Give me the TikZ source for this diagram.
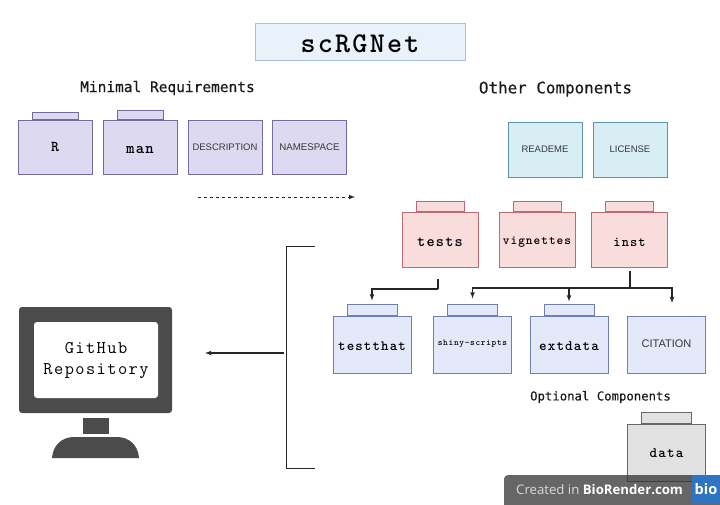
\documentclass[tikz,border=0pt]{standalone}
\usepackage{fontspec}
\usepackage{xcolor}
\setmainfont{Liberation Sans}
\newfontfamily\headFont[FakeBold=0.4]{DejaVu Sans Mono}
\newfontfamily\badgeFont{Open Sans}
\newfontfamily\boxFont[LetterSpace=8]{Latin Modern Mono Light}
\newfontfamily\screenFont[LetterSpace=8]{Latin Modern Mono}
\definecolor{titleC}{HTML}{E9F1FB}
\definecolor{titleL}{HTML}{A9BEE3}
\definecolor{purpleC}{HTML}{DCD9F0}
\definecolor{purpleL}{HTML}{716D9E}
\definecolor{cyanC}{HTML}{D8EEF5}
\definecolor{cyanL}{HTML}{5E94A9}
\definecolor{redC}{HTML}{F9DDDD}
\definecolor{redL}{HTML}{BF6A70}
\definecolor{blueC}{HTML}{E3E9F9}
\definecolor{blueL}{HTML}{6C80B6}
\definecolor{grayC}{HTML}{E2E2E2}
\definecolor{grayL}{HTML}{686868}
\definecolor{screenC}{HTML}{4A4B4A}
\definecolor{bioC}{HTML}{2F74C0}
\newcommand\monoText[3]{\raisebox{-#2pt}[0pt][0pt]{\boxFont\bfseries\fontsize{#1}{#1}\selectfont #3}}
\newcommand\sansText[2]{\fontsize{#1}{#1}\selectfont\color{black!78}#2}
\tikzset{
    plainBox/.style={inner sep=0pt,line width=1pt},
    purpleBox/.style={plainBox,draw=purpleL,fill=purpleC,minimum width=74pt,minimum height=54pt},
    cyanBox/.style={plainBox,draw=cyanL,fill=cyanC,minimum width=74pt,minimum height=55pt},
    redBox/.style={plainBox,draw=redL,fill=redC,minimum width=76pt,minimum height=55pt},
    blueBox/.style={plainBox,draw=blueL,fill=blueC,minimum width=78pt,minimum height=57pt},
    grayBox/.style={plainBox,draw=grayL,fill=grayC,minimum width=78pt,minimum height=57pt},
    headText/.style={inner sep=0pt,text=black!90},
    linkLine/.style={line width=1.1pt,draw=black!85,-latex},
    bareLine/.style={line width=1.1pt,draw=black!85}
}
\begin{document}
\begin{tikzpicture}[x=1pt,y=-1pt]
        \newcommand\folderBox[6]{
            \node[#2] (#1) at #3 {#6};
            \node[#2,anchor=south,minimum width=#5pt,minimum height=#4pt] (#1Tab) at (#1.north) {};
        }
        \useasboundingbox (0,0) rectangle (720,504);
        % title and headings
        \node[plainBox,draw=titleL,fill=titleC,minimum width=210pt,minimum height=37pt] (title) at (360,41.5)
            {\monoText{28.6}{10.5}{scRGNet}};
        \node[headText] (minimalHead) at (167.5,88) {\headFont\fontsize{14.5}{14.5}\selectfont Minimal Requirements};
        \node[headText] (otherHead) at (555.5,89) {\headFont\fontsize{15.9}{15.9}\selectfont Other Components};
        \node[headText] (optionalHead) at (600.5,397) {\headFont\fontsize{12.3}{12.3}\selectfont Optional Components};
        % minimal requirements
        \folderBox{rDir}{purpleBox}{(55,147)}{7}{46}{\monoText{15}{4.7}{R}}
        \folderBox{manDir}{purpleBox}{(140,147)}{9}{46}{\monoText{16}{6.3}{man}}
        \node[purpleBox] (description) at (225,147) {\sansText{9.5}{DESCRIPTION}};
        \node[purpleBox] (namespace) at (309.5,147) {\sansText{9.7}{NAMESPACE}};
        % other components
        \node[cyanBox] (readme) at (545,149.5) {\sansText{9.5}{READEME}};
        \node[cyanBox] (license) at (630,149.5) {\sansText{9.5}{LICENSE}};
        \folderBox{testsDir}{redBox}{(440,239.5)}{10}{48}{\monoText{15.5}{7}{tests}}
        \folderBox{vignettesDir}{redBox}{(537,239.5)}{10}{48}{\monoText{12.7}{5}{vignettes}}
        \folderBox{instDir}{redBox}{(629.5,239.5)}{10}{48}{\monoText{13.7}{6.5}{inst}}
        \folderBox{testthatDir}{blueBox}{(372,344.5)}{11}{50}{\monoText{14.2}{6}{testthat}}
        \folderBox{shinyDir}{blueBox}{(472.5,344.5)}{11}{50}{\monoText{8.9}{0.5}{shiny-scripts}}
        \folderBox{extdataDir}{blueBox}{(569,344.5)}{11}{50}{\monoText{14.4}{6}{extdata}}
        \node[blueBox] (citation) at (666.5,344.5) {\raisebox{1pt}{\sansText{11}{CITATION}}};
        \folderBox{dataDir}{grayBox}{(666.5,452.5)}{11}{50}{\monoText{14.4}{5}{data}}
        % monitor
        \node[fill=screenC,rounded corners=3pt,minimum width=153pt,minimum height=106pt,inner sep=0pt] (monitor) at (95.5,360) {};
        \node[fill=white,rounded corners=3pt,minimum width=124pt,minimum height=76pt,inner sep=0pt,align=center,
            font=\screenFont\fontsize{17.9}{21}\selectfont] (screen) at (96,360) {GitHub\\Repository};
        \node[fill=screenC,minimum width=26pt,minimum height=16pt,inner sep=0pt] (neck) at (96,426) {};
        \fill[screenC] (52,458) .. controls (53,445) and (62,437) .. (74,437) -- (117,437) .. controls (129,437) and (138,445) .. (139,458) -- cycle;
        % connectors
        \coordinate (dashStart) at (198,197);
        \coordinate (dashEnd) at (355,197);
        \draw[linkLine,dashed,line width=1pt] (dashStart) -- (dashEnd);
        \coordinate (testsOut) at (438,279);
        \coordinate (testsJoin) at (438,289);
        \coordinate (instOut) at (630,271);
        \coordinate (instJoin) at (630,288);
        \draw[bareLine] (testsOut) -- (testsJoin);
        \draw[linkLine,shorten >=3pt] (testsJoin) -| (testthatDirTab.north);
        \draw[bareLine] (instOut) -- (instJoin);
        \draw[linkLine,shorten >=5pt] (instJoin) -| (shinyDirTab.north);
        \draw[linkLine,shorten >=2pt] (instJoin) -| (extdataDirTab.north);
        \coordinate (citationIn) at (672,303);
        \draw[linkLine] (instJoin) -| (citationIn);
        \coordinate (bracketTop) at (315,246.5);
        \coordinate (bracketBottom) at (315,468.5);
        \draw[bareLine] (bracketTop) -- (286.5,246.5) -- (286.5,468.5) -- (bracketBottom);
        \coordinate (bracketOut) at (284,353);
        \coordinate (monitorIn) at (205,353);
        \draw[linkLine] (bracketOut) -- (monitorIn);
        % badge
        \fill[black!80,opacity=.75,rounded corners=4pt] (504,510) -- (504,475) -- (730,475) -- (730,510) -- cycle;
        \node[inner sep=0pt,text=white,anchor=west] (badge) at (516,490) {\badgeFont\fontsize{13.2}{13.2}\selectfont\color{black!15}Created in \bfseries\color{white}BioRender.com};
        \node[fill=bioC,minimum width=28pt,minimum height=29pt,inner sep=0pt,text=white] (bio) at (706,489.5) {\badgeFont\bfseries\fontsize{14.5}{14.5}\selectfont bio};
\end{tikzpicture}
\end{document}
